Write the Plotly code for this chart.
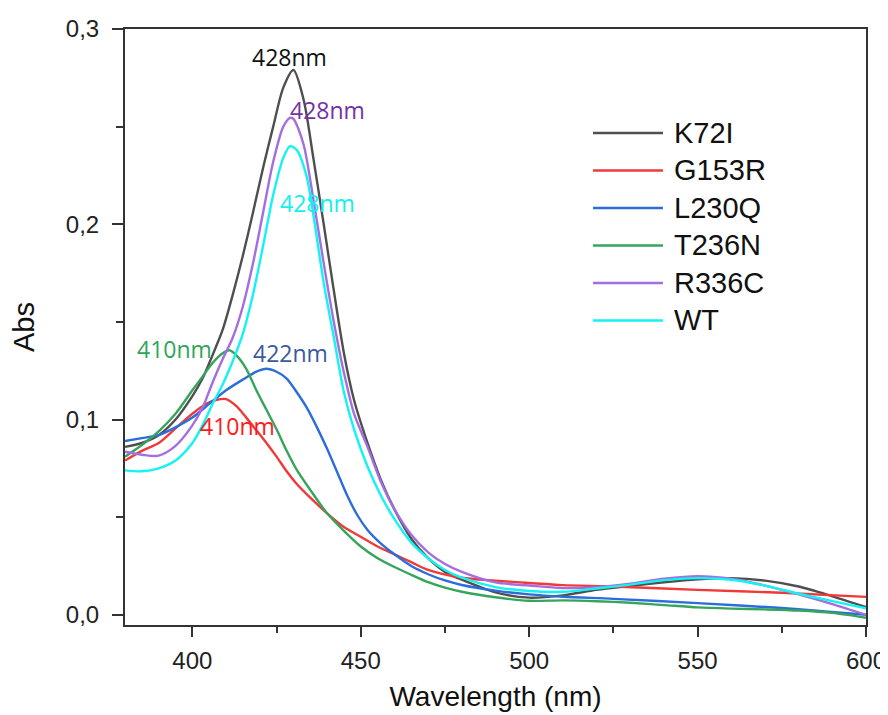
import plotly.graph_objects as go

# ---------------- data ----------------
series_names = ["K72I", "G153R", "L230Q", "T236N", "R336C", "WT"]

wl_K72I = [380, 385, 390, 395, 400, 403, 406, 409, 412, 415, 418, 421, 424, 427, 430, 433, 436, 439, 442, 445,
           448, 452, 456, 460, 465, 470, 475, 480, 490, 500, 510, 520, 530, 540, 550, 560, 570, 580, 590, 600]
abs_K72I = [0.086, 0.088, 0.092, 0.100, 0.112, 0.121, 0.133, 0.146, 0.164, 0.184, 0.206, 0.229, 0.250, 0.270,
            0.279, 0.264, 0.233, 0.200, 0.166, 0.134, 0.110, 0.088, 0.069, 0.054, 0.039, 0.029, 0.022, 0.018,
            0.0115, 0.0088, 0.0100, 0.0128, 0.0148, 0.0167, 0.0182, 0.0188, 0.0175, 0.0145, 0.0095, 0.004]

wl_G153R = [380, 385, 390, 395, 400, 404, 407, 410, 413, 416, 419, 422, 425, 428, 431, 435, 440, 445, 450, 455,
            460, 465, 470, 480, 490, 500, 510, 525, 550, 575, 600]
abs_G153R = [0.079, 0.084, 0.088, 0.0955, 0.103, 0.108, 0.110, 0.1105, 0.107, 0.101, 0.0945, 0.088, 0.081,
             0.0735, 0.067, 0.060, 0.052, 0.045, 0.040, 0.035, 0.031, 0.027, 0.023, 0.019, 0.0175, 0.0163,
             0.0152, 0.0145, 0.0128, 0.0113, 0.0092]

wl_L230Q = [380, 385, 390, 395, 400, 405, 410, 415, 419, 422, 425, 428, 431, 434, 437, 440, 443, 446, 449, 452,
            456, 460, 465, 470, 475, 480, 490, 500, 510, 525, 550, 575, 600]
abs_L230Q = [0.089, 0.0905, 0.092, 0.096, 0.101, 0.108, 0.115, 0.1205, 0.1245, 0.126, 0.1245, 0.121, 0.114,
             0.106, 0.096, 0.085, 0.073, 0.061, 0.051, 0.0435, 0.0365, 0.031, 0.025, 0.0208, 0.0176, 0.0153,
             0.0124, 0.0105, 0.0093, 0.0082, 0.0060, 0.0035, 0.000]

wl_T236N = [380, 385, 390, 395, 400, 403, 406, 409, 411, 413, 416, 419, 422, 425, 428, 431, 435, 440, 445, 450,
            455, 460, 465, 470, 475, 480, 490, 500, 510, 520, 530, 540, 550, 560, 570, 580, 590, 600]
abs_T236N = [0.081, 0.087, 0.094, 0.103, 0.115, 0.122, 0.129, 0.134, 0.1355, 0.133, 0.126, 0.115, 0.105, 0.095,
             0.084, 0.0742, 0.064, 0.052, 0.043, 0.035, 0.029, 0.0245, 0.0205, 0.0167, 0.0139, 0.0118, 0.0090,
             0.0072, 0.0074, 0.0070, 0.0062, 0.0050, 0.0038, 0.0032, 0.0028, 0.0022, 0.0010, -0.0015]

wl_R336C = [380, 385, 390, 395, 400, 403, 406, 409, 412, 415, 418, 421, 424, 427, 429, 430, 433, 436, 439, 442,
            445, 448, 452, 456, 460, 465, 470, 475, 480, 490, 500, 510, 520, 530, 540, 550, 560, 570, 580, 590, 600]
abs_R336C = [0.0835, 0.082, 0.0815, 0.0865, 0.097, 0.106, 0.119, 0.131, 0.142, 0.158, 0.180, 0.206, 0.232, 0.250,
             0.2545, 0.254, 0.241, 0.212, 0.180, 0.150, 0.124, 0.103, 0.086, 0.068, 0.054, 0.041, 0.032, 0.026,
             0.022, 0.0166, 0.0150, 0.0137, 0.0142, 0.0160, 0.0185, 0.0198, 0.0185, 0.0150, 0.0105, 0.0055, 0.000]

wl_WT = [380, 385, 390, 395, 400, 403, 406, 409, 412, 415, 418, 421, 424, 427, 429, 431, 434, 436, 439, 442,
         445, 448, 452, 456, 460, 465, 470, 475, 480, 490, 500, 510, 520, 530, 540, 550, 560, 570, 580, 590, 600]
abs_WT = [0.074, 0.0735, 0.075, 0.079, 0.088, 0.097, 0.108, 0.118, 0.130, 0.144, 0.164, 0.189, 0.215, 0.234,
          0.240, 0.238, 0.224, 0.204, 0.170, 0.142, 0.114, 0.095, 0.076, 0.061, 0.049, 0.037, 0.029, 0.023,
          0.019, 0.0142, 0.0122, 0.0118, 0.0135, 0.0155, 0.0178, 0.0188, 0.0180, 0.0150, 0.0108, 0.0070, 0.0034]

# peak labels
peak_labels = ["428nm", "410nm", "422nm", "410nm", "428nm", "428nm"]
peak_label_x = [428.7, 413.3, 429.0, 394.6, 440.0, 437.1]
peak_label_y = [0.2855, 0.0968, 0.1340, 0.1360, 0.2585, 0.2110]

x_ticks = [400, 450, 500, 550, 600]
y_ticks = [0.0, 0.1, 0.2, 0.3]

# ---------------- styling ----------------
line_colors = ["#4f4f4f", "#f03a3a", "#2b6ddb", "#35a55b", "#a46ee0", "#14f2f2"]
label_colors = ["#111111", "#ff1a1a", "#3a5a9c", "#2ea65a", "#7432a4", "#10f0f0"]

wls = [wl_K72I, wl_G153R, wl_L230Q, wl_T236N, wl_R336C, wl_WT]
vals = [abs_K72I, abs_G153R, abs_L230Q, abs_T236N, abs_R336C, abs_WT]

fig = go.Figure()
for name, x, y, c in zip(series_names, wls, vals, line_colors):
    fig.add_trace(go.Scatter(x=x, y=y, mode="lines", name=name,
                             line=dict(color=c, width=2.4, shape="spline", smoothing=0.8),
                             showlegend=False))

# peak annotations
for txt, x, y, c in zip(peak_labels, peak_label_x, peak_label_y, label_colors):
    fig.add_annotation(x=x, y=y, xref="x", yref="y", text=txt, showarrow=False,
                       font=dict(family="Open Sans, Noto Sans, sans-serif", size=23, color=c),
                       xanchor="center", yanchor="middle")

# custom legend (long line samples like the original)
leg_x0, leg_x1, leg_tx = 0.6316, 0.726, 0.7378
leg_y0, leg_dy = 0.8255, 0.0629
for i, (name, c) in enumerate(zip(series_names, line_colors)):
    yy = leg_y0 - i * leg_dy
    fig.add_shape(type="line", xref="paper", yref="paper", x0=leg_x0, x1=leg_x1, y0=yy, y1=yy,
                  line=dict(color=c, width=2.6))
    fig.add_annotation(x=leg_tx, y=yy, xref="paper", yref="paper", text=name, showarrow=False,
                       xanchor="left", yanchor="middle",
                       font=dict(family="Liberation Sans, Arial, sans-serif", size=29, color="#111111"))

axis_font = dict(family="Liberation Sans, Arial, sans-serif", size=24, color="#222222")
# the page body adds an 8px offset, margins compensate for it
fig.update_layout(
    width=888, height=715,
    margin=dict(l=117, r=30, t=21, b=98),
    paper_bgcolor="white", plot_bgcolor="white",
    separators=",.",
    showlegend=False,
    xaxis=dict(range=[380, 600], tickvals=x_ticks, ticks="outside", ticklen=10, tickwidth=1.8,
               tickcolor="#333333", showline=True, linecolor="#333333", linewidth=2, mirror=True,
               showgrid=False, zeroline=False, tickfont=axis_font, ticklabelstandoff=3, automargin=False,
               minor=dict(ticks="outside", ticklen=6, tickwidth=1.5, tickcolor="#333333", dtick=25, tick0=400,
                          showgrid=False),
               title=dict(text="Wavelength (nm)", standoff=14,
                          font=dict(family="Liberation Sans, Arial, sans-serif", size=28, color="#111111"))),
    yaxis=dict(range=[-0.0052, 0.3], tickvals=y_ticks, tickformat=".1f", ticks="outside", ticklen=11,
               tickwidth=1.8, tickcolor="#333333", showline=True, linecolor="#333333", linewidth=2, mirror=True,
               showgrid=False, zeroline=False, tickfont=axis_font, ticklabelstandoff=8, automargin=False,
               minor=dict(ticks="outside", ticklen=7, tickwidth=1.5, tickcolor="#333333", dtick=0.05, tick0=0,
                          showgrid=False),
               title=dict(text="Abs", standoff=23,
                          font=dict(family="Liberation Sans, Arial, sans-serif", size=29, color="#111111"))),
)

fig.write_html("out.html")
